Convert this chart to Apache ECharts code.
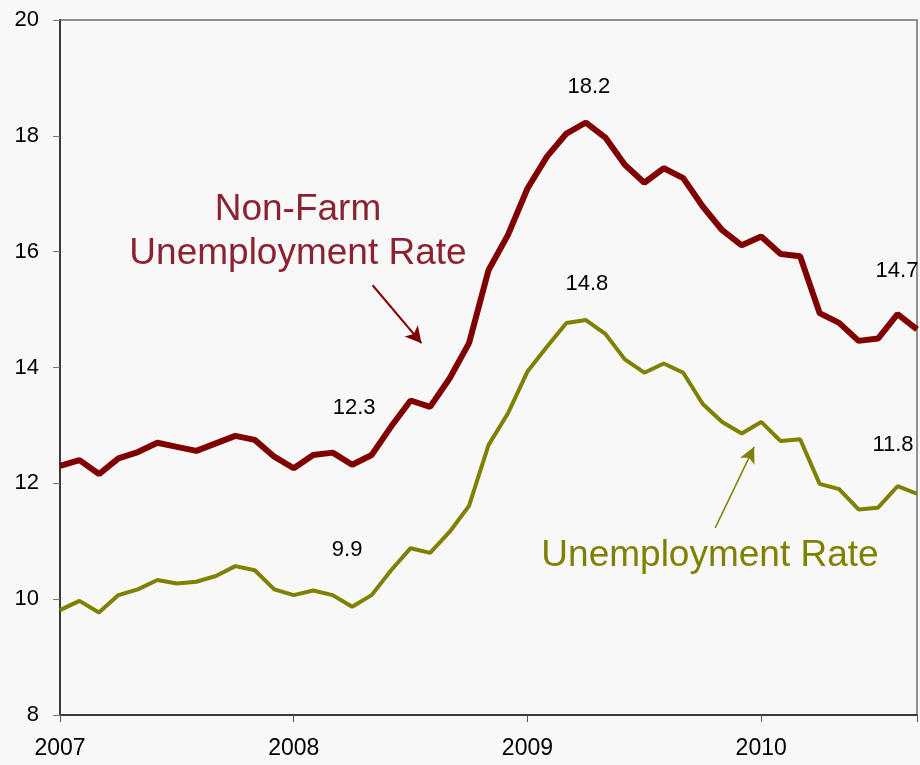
<!DOCTYPE html>
<html>
<head>
<meta charset="utf-8">
<title>Unemployment Rate</title>
<script src="https://cdn.jsdelivr.net/npm/echarts@6/dist/echarts.min.js"></script>
<style>
    html, body {margin: 0; padding: 0; background: #f8f8f8;}
    #main {width: 920px; height: 765px;}
</style>
</head>
<body>
<div id="main"></div>
<script>
// months from Jan 2007 (index 0) to Sep 2010 (index 44)
var years = [2007, 2008, 2009, 2010];
var nonFarmRate = [12.30, 12.40, 12.16, 12.43, 12.54, 12.70, 12.63, 12.56, 12.69, 12.82, 12.75, 12.46,
    12.26, 12.49, 12.53, 12.32, 12.49, 12.98, 13.43, 13.32, 13.81, 14.42, 15.68, 16.29,
    17.09, 17.64, 18.04, 18.23, 17.97, 17.50, 17.19, 17.44, 17.27, 16.78, 16.37, 16.11,
    16.26, 15.96, 15.92, 14.94, 14.77, 14.46, 14.50, 14.92, 14.66];
var unempRate = [9.81, 9.97, 9.77, 10.07, 10.17, 10.33, 10.27, 10.30, 10.40, 10.57, 10.50, 10.17,
    10.07, 10.15, 10.07, 9.87, 10.07, 10.50, 10.88, 10.80, 11.16, 11.61, 12.66, 13.21,
    13.93, 14.36, 14.77, 14.82, 14.58, 14.14, 13.91, 14.07, 13.91, 13.37, 13.06, 12.86,
    13.06, 12.73, 12.76, 11.99, 11.90, 11.55, 11.58, 11.95, 11.82];
// points that get a value label
var labelIdx = [15, 27, 44];

var FONT = 'Liberation Sans, Arial, sans-serif';

function toPairs(arr) {
    var out = [];
    for (var i = 0; i < arr.length; i++) {
        out.push([i, arr[i]]);
    }
    return out;
}

function valueLabels(arr, offsets) {
    var out = [];
    for (var k = 0; k < labelIdx.length; k++) {
        var i = labelIdx[k];
        out.push({
            coord: [i, arr[i]],
            value: arr[i].toFixed(1),
            label: {offset: offsets[k]}
        });
    }
    return out;
}

var markPointBase = {
    symbol: 'circle',
    symbolSize: 0,
    silent: true,
    label: {
        show: true,
        position: 'inside',
        color: '#000',
        fontSize: 22,
        fontFamily: FONT,
        formatter: '{c}'
    }
};

var myChart = echarts.init(document.getElementById('main'));
var option = {
    backgroundColor: '#f8f8f8',
    animation: false,
    grid: {
        left: 60,
        top: 20,
        right: 2,
        bottom: 50,
        show: true,
        borderColor: '#6e6e6e',
        borderWidth: 1.5,
        backgroundColor: 'transparent'
    },
    xAxis: {
        type: 'value',
        min: 0,
        max: 44,
        interval: 12,
        splitLine: {show: false},
        axisLine: {show: true, lineStyle: {color: '#3a3a3a', width: 2}},
        axisTick: {show: true, length: 7, lineStyle: {color: '#555'}},
        axisLabel: {
            margin: 22,
            color: '#000',
            fontSize: 23,
            fontFamily: FONT,
            formatter: function (v) {
                return years[v / 12];
            }
        }
    },
    yAxis: {
        type: 'value',
        min: 8,
        max: 20,
        interval: 2,
        splitLine: {show: false},
        axisLine: {show: true, lineStyle: {color: '#3a3a3a', width: 2}},
        axisTick: {show: true, length: 7, lineStyle: {color: '#777'}},
        axisLabel: {
            margin: 21,
            color: '#000',
            fontSize: 22,
            fontFamily: FONT
        }
    },
    series: [
        {
            name: 'Non-Farm Unemployment Rate',
            type: 'line',
            data: toPairs(nonFarmRate),
            symbol: 'none',
            lineStyle: {color: '#800000', width: 6},
            itemStyle: {color: '#800000'},
            z: 3,
            markPoint: Object.assign({}, markPointBase, {
                data: valueLabels(nonFarmRate, [[2, -57], [3, -36], [-20, -58]])
            }),
            markLine: {
                silent: true,
                symbol: ['none', 'arrow'],
                symbolSize: [13, 16],
                label: {show: false},
                lineStyle: {color: '#800000', width: 2, type: 'solid'},
                data: [[{coord: [16.05, 15.42]}, {coord: [18.56, 14.42]}]]
            }
        },
        {
            name: 'Unemployment Rate',
            type: 'line',
            data: toPairs(unempRate),
            symbol: 'none',
            lineStyle: {color: '#808000', width: 4},
            itemStyle: {color: '#808000'},
            z: 2,
            markPoint: Object.assign({}, markPointBase, {
                data: valueLabels(unempRate, [[-5, -57], [1, -36], [-24, -49]])
            }),
            markLine: {
                silent: true,
                symbol: ['none', 'arrow'],
                symbolSize: [12, 16],
                label: {show: false},
                lineStyle: {color: '#808000', width: 1.5, type: 'solid'},
                data: [[{coord: [33.64, 11.23]}, {coord: [35.64, 12.63]}]]
            }
        }
    ],
    graphic: [
        {
            type: 'text',
            style: {
                text: 'Non-Farm\nUnemployment Rate',
                x: 298, y: 232,
                align: 'center', verticalAlign: 'middle',
                lineHeight: 44,
                fill: '#8b2232',
                font: '37px ' + FONT
            }
        },
        {
            type: 'text',
            style: {
                text: 'Unemployment Rate',
                x: 710, y: 556,
                align: 'center', verticalAlign: 'middle',
                fill: '#808000',
                font: '37px ' + FONT
            }
        }
    ]
};
myChart.setOption(option);
</script>
</body>
</html>
